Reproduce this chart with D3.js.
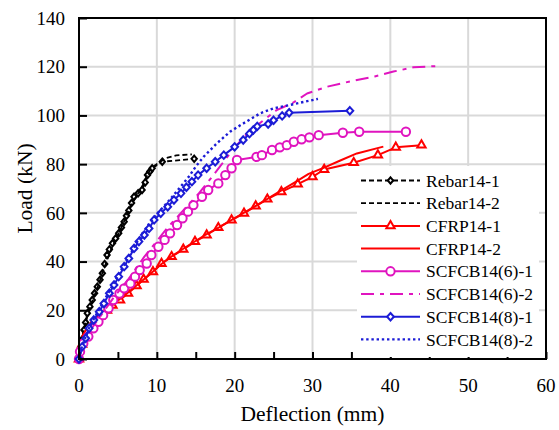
<!DOCTYPE html>
<html>
<head>
<meta charset="utf-8">
<script src="https://cdn.jsdelivr.net/npm/d3@7"></script>
<style>
  html, body { margin: 0; padding: 0; background: #fff; }
  svg { display: block; }
  svg text { font-family: "Liberation Serif", "Times New Roman", serif; }
</style>
</head>
<body>
<svg id="chart" width="559" height="430"></svg>
<script>
// Load–deflection curves, [deflection (mm), load (kN)]
const rebar14_1 = [[0,0],[0.2,4],[0.4,8],[0.64,11.9],[0.85,15],[1.07,18.8],[1.4,21.5],[1.7,24.2],[2.0,27],[2.35,29.7],[2.7,32.5],[3.0,35.2],[3.3,39],[3.6,42.7],[3.9,45],[4.3,47.5],[4.7,49.5],[5.1,51.6],[5.45,54],[5.8,56.4],[6.1,58.8],[6.4,61],[6.75,64],[7.07,66.6],[7.6,68],[8.1,69.4],[8.5,72.5],[8.8,75.5],[9.1,77],[9.4,78.3],[10.7,81],[14.8,82.2]];
const rebar14_2 = [[0,0],[0.3,7],[0.7,13],[1.2,19],[1.8,24.5],[2.5,30.5],[3.2,37],[4.0,44],[4.8,49.5],[5.6,55],[6.4,61],[7.2,66],[8.0,70],[8.7,75],[9.3,78.5],[10.2,80.5],[11.2,82.5],[12.5,83.6],[14.5,84]];
const cfrp14_1 = [[0,0],[0.4,6],[1.0,10.5],[1.8,14.5],[2.7,17.5],[3.6,20],[4.3,22],[5.27,24.2],[6.3,27],[7.4,30],[8.3,32.7],[9.5,35.8],[10.6,39.2],[11.9,42],[13.4,45],[14.9,48.2],[16.4,50.9],[17.9,53.9],[19.6,57],[21.2,59.8],[22.7,62.8],[24.2,65.6],[26.0,68.6],[28.1,71.8],[30.0,74.8],[31.5,77.8],[35.3,80.6],[38.4,83.7],[40.7,86.9],[44.0,87.8]];
const cfrp14_2 = [[0,0],[0.5,6.5],[1.2,11],[2.2,15.5],[3.4,19.5],[4.6,23],[6,26.5],[7.5,30.5],[9,34.5],[10.6,39],[12.2,42.8],[14,46.5],[16,50.5],[18,54],[20,57.8],[22,61.5],[24,65.3],[26,69.2],[28,73],[29.5,76],[31.5,78.6],[33.5,81.4],[35.7,84.4],[39.1,87.2]];
const scfcb14_6_1 = [[0,0],[0.13,3],[0.55,6.4],[1.2,9.2],[1.85,12.6],[2.5,15.3],[3.1,18],[3.8,20.8],[4.4,24.2],[5.2,26.9],[5.8,29],[6.6,31],[7.2,33.8],[7.8,36.5],[8.7,39.2],[9.3,42.7],[10.2,46.1],[11.0,48.9],[11.7,51.6],[12.6,55],[13.3,57.8],[14.0,60.5],[14.7,63.2],[15.8,66.6],[16.6,69.4],[17.9,72.1],[18.8,75.5],[19.6,78.3],[20.3,81.7],[22.8,83],[23.5,83.7],[24.8,85.8],[25.8,86.9],[26.7,87.8],[27.6,89.2],[28.6,90.2],[29.6,91],[30.8,91.9],[33.9,92.9],[36.0,93.3],[42.0,93.3]];
const scfcb14_6_2 = [[0,0],[0.5,6.5],[1.4,11.5],[2.4,16],[3.4,20.5],[4.4,25],[5.4,29],[6.4,33],[7.4,37.5],[8.4,42],[9.4,46],[10.4,50],[11.4,54],[12.4,57.5],[13.4,61],[14.4,64.5],[15.4,68],[16.6,72.8],[18.1,79],[19.8,86],[21.6,92.6],[23.5,97.5],[25.4,102.2],[27.5,105.2],[29.3,109],[31.9,111.8],[35.3,114.3],[38,116],[40.4,118],[43.0,119.8],[46.2,120.3]];
const scfcb14_8_1 = [[0,0],[0.4,5],[0.86,8.5],[1.3,12.6],[1.9,16],[2.6,19.4],[3.2,22.8],[3.9,27],[4.5,30.4],[5.1,33.8],[5.8,37.9],[6.4,41.3],[7.07,45.4],[7.7,48.2],[8.4,50.9],[9.0,53.6],[9.65,57.1],[10.5,59.8],[11.4,62.5],[12.2,65.3],[13.1,68],[13.8,70.5],[14.5,72.8],[15.3,75.5],[16.4,78.3],[17.5,81],[18.6,83.7],[20.0,87.1],[21.1,89.9],[21.9,92.5],[22.4,94],[22.9,95.5],[24.3,96.5],[25.0,98],[26.1,99.8],[27.0,101.1],[34.8,101.9]];
const scfcb14_8_2 = [[0,0],[0.4,5.5],[0.9,9.5],[1.4,13.5],[2.0,17],[2.7,21],[3.4,25],[4.1,29],[4.8,33],[5.5,37],[6.3,41.5],[7.1,46],[8.0,51],[9.0,55.5],[10.1,59.8],[11.0,63],[11.8,65.9],[13,70.5],[14.1,74.8],[15.0,79],[16.0,83],[17.7,88.5],[19.4,93.3],[21.1,96.7],[23.3,100.9],[25.0,102.9],[27.1,104.3],[30.7,106.8]];

const seriesNames = ["Rebar14-1","Rebar14-2","CFRP14-1","CFRP14-2","SCFCB14(6)-1","SCFCB14(6)-2","SCFCB14(8)-1","SCFCB14(8)-2"];
const xTicks = [0,10,20,30,40,50,60];
const yTicks = [0,20,40,60,80,100,120,140];
const xTitle = "Deflection (mm)";
const yTitle = "Load (kN)";

const BLACK = "#000000", RED = "#ff0000", MAGENTA = "#e014bf", BLUE = "#1c1cd6";

// near-square diamond symbol; hw/hh are half width/height in px
const diamond = (hw, hh) => ({
  draw(ctx) {
    ctx.moveTo(0, -hh); ctx.lineTo(hw, 0); ctx.lineTo(0, hh); ctx.lineTo(-hw, 0); ctx.closePath();
  }
});

const series = [
  { name: seriesNames[0], data: rebar14_1, color: BLACK, dash: "5,3", width: 1.8, marker: diamond(2.7, 3.2), msize: 1 },
  { name: seriesNames[1], data: rebar14_2, color: BLACK, dash: "5,3", width: 1.8 },
  { name: seriesNames[2], data: cfrp14_1, color: RED, dash: null, width: 2, marker: d3.symbolTriangle, msize: 30 },
  { name: seriesNames[3], data: cfrp14_2, color: RED, dash: null, width: 2 },
  { name: seriesNames[4], data: scfcb14_6_1, color: MAGENTA, dash: null, width: 2, marker: d3.symbolCircle, msize: 55 },
  { name: seriesNames[5], data: scfcb14_6_2, color: MAGENTA, dash: "13,6,4,6", width: 2 },
  { name: seriesNames[6], data: scfcb14_8_1, color: BLUE, dash: null, width: 2, marker: diamond(3.4, 3.7), msize: 1 },
  { name: seriesNames[7], data: scfcb14_8_2, color: BLUE, dash: "2.4,2.8", width: 2.4 }
];

const svg = d3.select("#chart");
const L = 79, R = 546, T = 18, B = 359;
const x = d3.scaleLinear().domain([0, 60]).range([L, R]);
const y = d3.scaleLinear().domain([0, 140]).range([B, T]);

// grid
const grid = svg.append("g").attr("stroke", "#d9d9d9").attr("stroke-width", 2);
xTicks.slice(1, -1).forEach(v => grid.append("line").attr("x1", x(v)).attr("x2", x(v)).attr("y1", T).attr("y2", B));
yTicks.slice(1, -1).forEach(v => grid.append("line").attr("x1", L).attr("x2", R).attr("y1", y(v)).attr("y2", y(v)));

// curves
const line = d3.line().x(d => x(d[0])).y(d => y(d[1]));
const plot = svg.append("g");
series.forEach(s => {
  plot.append("path").datum(s.data).attr("d", line)
    .attr("fill", "none").attr("stroke", s.color).attr("stroke-width", s.width)
    .attr("stroke-dasharray", s.dash).attr("stroke-linejoin", "round");
  if (s.marker) {
    const sym = d3.symbol().type(s.marker).size(s.msize);
    plot.append("g").selectAll("path").data(s.data).join("path")
      .attr("d", sym())
      .attr("transform", d => `translate(${x(d[0])},${y(d[1])})`)
      .attr("fill", "#fff").attr("stroke", s.color).attr("stroke-width", 2);
  }
});

// axes: x ticks every 5 mm pointing inward, y ticks every 20 kN inward
const xAxis = d3.axisBottom(x).tickValues(d3.range(0, 61, 5)).tickSize(-7).tickFormat("");
svg.append("g").attr("transform", `translate(0,${B})`).call(xAxis)
  .call(g => g.select(".domain").remove())
  .call(g => g.selectAll("line").attr("stroke", "#000").attr("stroke-width", 2));
const yAxis = d3.axisLeft(y).tickValues(yTicks).tickSize(-8).tickFormat("");
svg.append("g").attr("transform", `translate(${L},0)`).call(yAxis)
  .call(g => g.select(".domain").remove())
  .call(g => g.selectAll("line").attr("stroke", "#000").attr("stroke-width", 2));

// frame
svg.append("rect").attr("x", L).attr("y", T).attr("width", R - L).attr("height", B - T)
  .attr("fill", "none").attr("stroke", "#000").attr("stroke-width", 2);

// tick labels
svg.append("g").selectAll("text").data(xTicks).join("text")
  .attr("x", d => x(d)).attr("y", 392).attr("text-anchor", "middle")
  .attr("font-size", 19).text(d => d);
svg.append("g").selectAll("text").data(yTicks).join("text")
  .attr("x", 65).attr("y", d => y(d)).attr("dy", "0.35em").attr("text-anchor", "end")
  .attr("font-size", 19).text(d => d);

// axis titles
svg.append("text").attr("x", (L + R) / 2).attr("y", 421).attr("text-anchor", "middle")
  .attr("font-size", 21.5).text(xTitle);
svg.append("text").attr("transform", `translate(32,${(T + B) / 2}) rotate(-90)`)
  .attr("text-anchor", "middle").attr("font-size", 21.5).text(yTitle);

// legend
const lg = svg.append("g");
lg.append("rect").attr("x", 357).attr("y", 166).attr("width", 182).attr("height", 191).attr("fill", "#fff");
series.forEach((s, i) => {
  const cy = 180.5 + i * 22.7;
  lg.append("line").attr("x1", 361).attr("x2", 420).attr("y1", cy).attr("y2", cy)
    .attr("stroke", s.color).attr("stroke-width", s.width).attr("stroke-dasharray", s.dash);
  if (s.marker) {
    lg.append("path").attr("d", d3.symbol().type(s.marker).size(s.msize)())
      .attr("transform", `translate(390.5,${cy})`)
      .attr("fill", "#fff").attr("stroke", s.color).attr("stroke-width", 2);
  }
  lg.append("text").attr("x", 426).attr("y", cy).attr("dy", "0.35em")
    .attr("font-size", 17.5).text(s.name);
});
</script>
</body>
</html>
